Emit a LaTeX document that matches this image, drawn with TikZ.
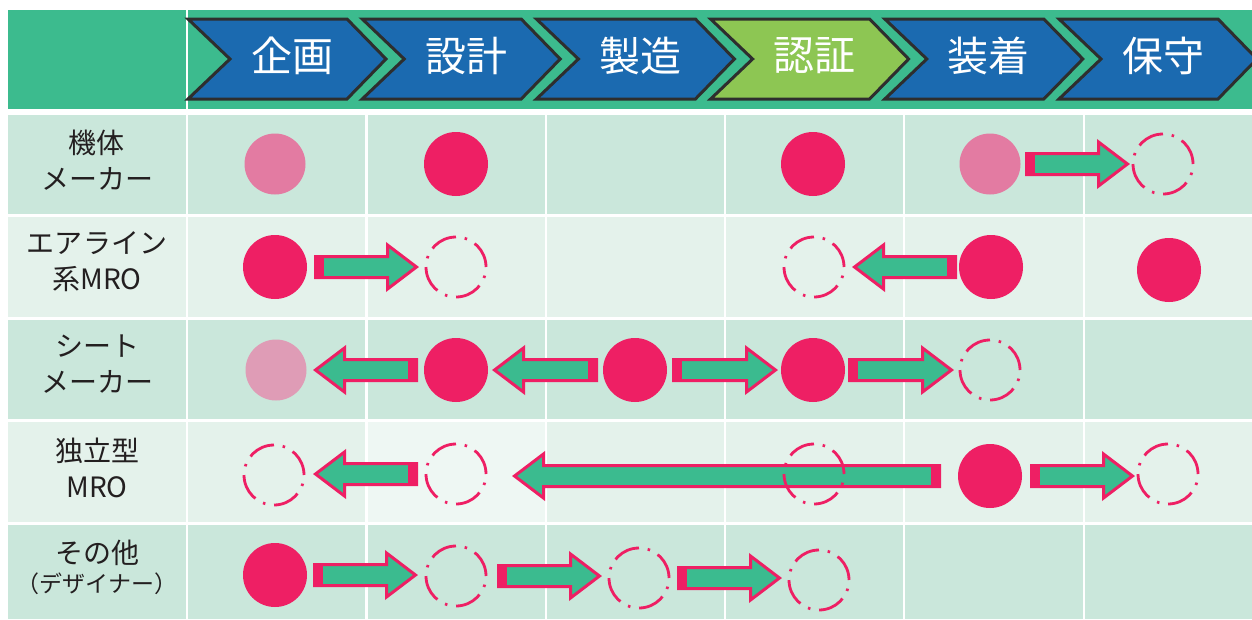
\documentclass[tikz,border=0pt]{standalone}
\usepackage{fontspec}
\setmainfont{Noto Sans CJK JP}
\usetikzlibrary{calc}
\definecolor{hgreen}{HTML}{3CBB8E}
\definecolor{cblue}{HTML}{1B6AB0}
\definecolor{clime}{HTML}{8DC653}
\definecolor{cdark}{HTML}{2E2E2E}
\definecolor{rowA}{HTML}{CAE7DB}
\definecolor{rowB}{HTML}{E4F2EB}
\definecolor{rowC}{HTML}{EEF7F3}
\definecolor{mpink}{HTML}{EE1F64}
\definecolor{ppink}{HTML}{E37BA2}
\definecolor{qpink}{HTML}{DF9CB6}
\definecolor{tdark}{HTML}{231F20}
\definecolor{agreen}{HTML}{3BBB8F}
\tikzset{
  dot/.style={circle, minimum size=64pt, inner sep=0pt, fill=mpink},
  pale/.style={circle, minimum size=61pt, inner sep=0pt, fill=ppink},
  paler/.style={circle, minimum size=61pt, inner sep=0pt, fill=qpink},
  ring/.style={circle, minimum size=60pt, inner sep=0pt, draw=mpink, line width=2.8pt,
    dash pattern=on 27pt off 8.8pt on 2.5pt off 8.8pt},
  lbl/.style={text=tdark, align=center, inner sep=0pt, font=\fontsize{28}{36}\selectfont},
  sublbl/.style={text=tdark, inner sep=0pt, font=\fontsize{23}{26}\selectfont},
  htxt/.style={text=white, inner sep=0pt, font=\fontsize{41}{44}\selectfont},
  chevron/.style={draw=cdark, line width=3pt, line join=miter},
  sep/.style={white, line width=2.5pt},
  arrowbody/.style={fill=agreen, draw=mpink, line width=3pt, line join=miter},
  arrowtail/.style={fill=mpink},
}
\newcommand\chev[4]{%
  \draw[chevron, fill=#2] (#1,19) -- ++(159,0) -- ++(39,40) -- ++(-39,40) -- ++(-159,0) -- ++(42,-40) -- cycle;
  \node[htxt] (#3) at (#1+104,56) {#4};
}
\newcommand\barrow[4]{%
  \path[arrowbody] let \p1=(#1.center), \p2=(#2.center),
    \n1={ifthenelse(\x2>\x1,1,-1)},
    \n2={\x1+\n1*(#3+1.5)},
    \n3={\x2-\n1*(#4+2.5)},
    \n4={\x2-\n1*(#4+31.5)}
  in ({\n2*1pt},{\y1+10.5pt}) -- ({\n4*1pt},{\y1+10.5pt}) -- ({\n4*1pt},{\y1+22pt})
     -- ({\n3*1pt},{\y1}) -- ({\n4*1pt},{\y1-22pt}) -- ({\n4*1pt},{\y1-10.5pt})
     -- ({\n2*1pt},{\y1-10.5pt}) -- cycle;
  \path[arrowtail] let \p1=(#1.center), \p2=(#2.center),
    \n1={ifthenelse(\x2>\x1,1,-1)},
    \n2={\x1+\n1*(#3)},
    \n5={\x1+\n1*(#3+10)}
  in ({\n2*1pt},{\y1-12pt}) rectangle ({\n5*1pt},{\y1+12pt});
}
\begin{document}
\begin{tikzpicture}[x=1pt,y=-1pt]
\useasboundingbox (0,0) rectangle (1252,619);
\clip (0,0) rectangle (1252,619);
% header band
\fill[hgreen] (8,10) rectangle (1252,109);
% rows
\fill[rowA] (8,115) rectangle (1252,214);
\fill[rowB] (8,217) rectangle (1252,317);
\fill[rowA] (8,320) rectangle (1252,419);
\fill[rowB] (8,422) rectangle (1252,522);
\fill[rowC] (367,422) rectangle (545,522);
\fill[rowA] (8,525) rectangle (1252,619);
% separators
\draw[sep] (187,10) -- (187,619);
\foreach \x in {366.5,546,725,904,1084} \draw[sep] (\x,115) -- (\x,619);
% chevrons
\chev{188}{cblue}{h1}{企画}
\chev{362.2}{cblue}{h2}{設計}
\chev{536.4}{cblue}{h3}{製造}
\chev{710.6}{clime}{h4}{認証}
\chev{884.8}{cblue}{h5}{装着}
\chev{1059}{cblue}{h6}{保守}
% row labels
\node[lbl] (l1) at (97,160) {機体\\メーカー};
\node[lbl] (l2) at (97,262) {エアライン\\系MRO};
\node[lbl] (l3) at (97,364) {シート\\メーカー};
\node[lbl] (l4) at (97,468) {独立型\\MRO};
\node[lbl] (l5) at (97,553) {その他};
\node[sublbl] (l5b) at (97,584) {（デザイナー）};
% row 1
\node[pale] (a1) at (275,164) {};
\node[dot]  (a2) at (456,164) {};
\node[dot]  (a4) at (813,164) {};
\node[pale] (a5) at (990,164) {};
\node[ring] (a6) at (1163,164) {};
\barrow{a5}{a6}{35}{33}
% row 2
\node[dot]  (b1) at (275,267) {};
\node[ring] (b2) at (456,267) {};
\node[ring] (b4) at (814,267) {};
\node[dot]  (b5) at (991,267) {};
\node[dot]  (b6) at (1169,270) {};
\barrow{b1}{b2}{39}{37}
\barrow{b5}{b4}{34}{38}
% row 3
\node[paler] (c1) at (276,370) {};
\node[dot]   (c2) at (456,370) {};
\node[dot]   (c3) at (635,370) {};
\node[dot]   (c4) at (813,370) {};
\node[ring]  (c5) at (990,370) {};
\barrow{c2}{c1}{38}{37}
\barrow{c3}{c2}{37}{36}
\barrow{c3}{c4}{37}{35}
\barrow{c4}{c5}{35}{36}
% row 4
\node[ring] (d1) at (274,475) {};
\node[ring] (d2) at (456,474) {};
\node[dot]  (d5) at (990,476) {};
\node[ring] (d6) at (1168,474) {};
\barrow{d2}{d1}{38}{39}
\barrow{d5}{d2}{49}{56}
\barrow{d5}{d6}{40}{33}
\node[ring] (d4) at (814,474) {};
% row 5
\node[dot]  (e1) at (275,575) {};
\node[ring] (e2) at (456,576) {};
\node[ring] (e3) at (639,578) {};
\node[ring] (e4) at (819,580) {};
\barrow{e1}{e2}{38}{38}
\barrow{e2}{e3}{41}{37}
\barrow{e3}{e4}{38}{37}
\end{tikzpicture}
\end{document}
